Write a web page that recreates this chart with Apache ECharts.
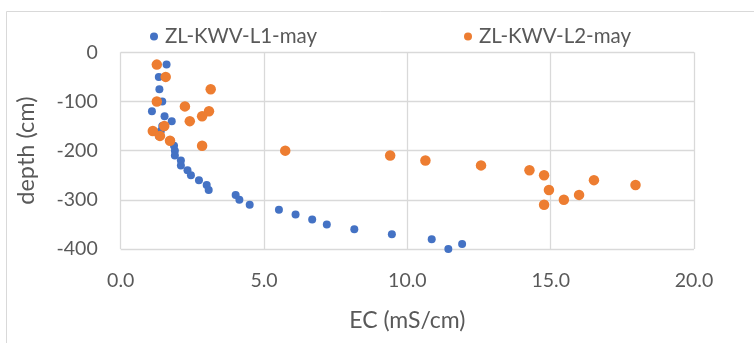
<!DOCTYPE html>
<html>
<head>
<meta charset="utf-8">
<script src="https://cdn.jsdelivr.net/npm/echarts@6/dist/echarts.min.js"></script>
<style>
  html, body { margin: 0; padding: 0; background: #ffffff; }
  #chart { width: 754px; height: 343px; }
</style>
</head>
<body>
<div id="chart"></div>
<script>
// EC profiles with depth, two boreholes sampled in May
const seriesNames = ['ZL-KWV-L1-may', 'ZL-KWV-L2-may'];

const l1Depth = [-25, -50, -75, -100, -120, -130, -140, -150, -160, -170, -180, -190, -200,
  -210, -220, -230, -240, -250, -260, -270, -280, -290, -300, -310, -320, -330, -340,
  -350, -360, -370, -380, -390, -400];
const l1EC = [1.60, 1.33, 1.35, 1.45, 1.09, 1.53, 1.78, 1.45, 1.40, 1.33, 1.75, 1.86, 1.89,
  1.89, 2.10, 2.10, 2.33, 2.45, 2.73, 3.00, 3.07, 4.01, 4.14, 4.50, 5.52, 6.10, 6.68,
  7.19, 8.15, 9.46, 10.85, 11.91, 11.43];

const l2Depth = [-25, -50, -75, -100, -110, -120, -130, -140, -150, -160, -170, -180, -190,
  -200, -210, -220, -230, -240, -250, -260, -270, -280, -290, -300, -310];
const l2EC = [1.26, 1.57, 3.14, 1.26, 2.24, 3.08, 2.84, 2.41, 1.52, 1.12, 1.37, 1.72, 2.84,
  5.74, 9.40, 10.63, 12.57, 14.26, 14.77, 16.51, 17.96, 14.94, 15.99, 15.46, 14.77];

const xTicks = { min: 0, max: 20, step: 5 };
const yTicks = { min: -400, max: 0, step: 100 };

const colors = ['#4472C4', '#ED7D31'];
const textColor = '#595959';
const gridColor = '#d9d9d9';
const font = 'Lato, "Open Sans", sans-serif';

const pairs = (xs, ys) => xs.map((x, i) => [x, ys[i]]);

const chart = echarts.init(document.getElementById('chart'), null, { renderer: 'canvas' });

chart.setOption({
  animation: false,
  backgroundColor: '#ffffff',
  textStyle: { fontFamily: font, color: textColor },
  graphic: [{
    type: 'rect',
    silent: true,
    shape: { x: 6.5, y: 11.5, width: 800, height: 400 },
    style: { fill: 'none', stroke: gridColor, lineWidth: 1 }
  }],
  legend: [
    {
      data: [seriesNames[0]],
      left: 145, top: 21,
      icon: 'circle', itemWidth: 8, itemHeight: 8, itemGap: 6,
      textStyle: { fontFamily: font, fontSize: 20.5, color: textColor, padding: [0, 0, 0, 2] }
    },
    {
      data: [seriesNames[1]],
      left: 459, top: 21,
      icon: 'circle', itemWidth: 8, itemHeight: 8, itemGap: 6,
      textStyle: { fontFamily: font, fontSize: 20.5, color: textColor, padding: [0, 0, 0, 2] }
    }
  ],
  grid: { left: 120.7, right: 60, top: 52.3, bottom: 94, containLabel: false },
  xAxis: {
    type: 'value',
    min: xTicks.min, max: xTicks.max, interval: xTicks.step,
    name: 'EC (mS/cm)',
    nameLocation: 'middle',
    nameGap: 60,
    nameTextStyle: { fontFamily: font, fontSize: 23, color: textColor },
    axisLine: { show: false },
    axisTick: { show: false },
    axisLabel: {
      margin: 22, fontFamily: font, fontSize: 19.5, color: textColor,
      formatter: v => v.toFixed(1)
    },
    splitLine: { show: true, lineStyle: { color: gridColor, width: 1.3 } }
  },
  yAxis: {
    type: 'value',
    min: yTicks.min, max: yTicks.max, interval: yTicks.step,
    name: 'depth (cm)',
    nameLocation: 'middle',
    nameGap: 82,
    nameRotate: 90,
    nameTextStyle: { fontFamily: font, fontSize: 23.5, color: textColor },
    axisLine: { show: false },
    axisTick: { show: false },
    axisLabel: { margin: 23, fontFamily: font, fontSize: 19.5, color: textColor },
    splitLine: { show: true, lineStyle: { color: gridColor, width: 1.3 } }
  },
  series: [
    {
      name: seriesNames[0],
      type: 'scatter',
      data: pairs(l1EC, l1Depth),
      symbol: 'circle',
      symbolSize: 8,
      itemStyle: { color: colors[0], opacity: 1 }
    },
    {
      name: seriesNames[1],
      type: 'scatter',
      data: pairs(l2EC, l2Depth),
      symbol: 'circle',
      symbolSize: 10.5,
      itemStyle: { color: colors[1], opacity: 1 }
    }
  ]
});
</script>
</body>
</html>
